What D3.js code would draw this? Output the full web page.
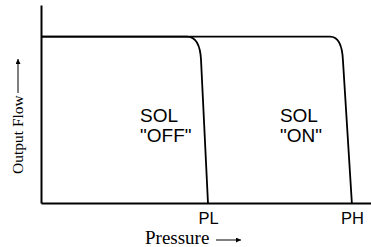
<!DOCTYPE html>
<html>
<head>
<meta charset="utf-8">
<script src="https://cdn.jsdelivr.net/npm/d3@7"></script>
<style>
  html, body { margin: 0; padding: 0; background: #fff; }
  svg { display: block; }
</style>
</head>
<body>
<div id="chart"></div>
<script>
// curve points in (pressure, flow): start, bend start, corner, bend end, bottom
const offCurve = [[0, 1], [44.2, 1], [48.2, 1], [48.5, 0.856], [50.6, 0]];
const onCurve = [[0, 1], [87.6, 1], [91.2, 1], [91.5, 0.856], [94.2, 0]];

const tickValues = [50.6, 94.2];
const tickLabels = ['PL', 'PH'];

const regionLabels = [
  { x: 30, lines: ['SOL', '"OFF"'] },
  { x: 72.4, lines: ['SOL', '"ON"'] }
];

const width = 371, height = 247;
const margin = { left: 41, right: 0, top: 5, bottom: 44 };

const x = d3.scaleLinear().domain([0, 100]).range([margin.left, width - margin.right]);
const y = d3.scaleLinear().domain([0, 1.19]).range([height - margin.bottom, margin.top]);

const svg = d3.select('#chart').append('svg')
  .attr('width', width)
  .attr('height', height);

// -- arrow marker for axis titles
svg.append('defs').append('marker')
  .attr('id', 'arrow')
  .attr('viewBox', '0 -5 10 10')
  .attr('refX', 10)
  .attr('refY', 0)
  .attr('markerWidth', 10)
  .attr('markerHeight', 5)
  .attr('markerUnits', 'userSpaceOnUse')
  .attr('orient', 'auto')
  .append('path')
  .attr('d', 'M0,-5L10,0L0,5Z')
  .attr('fill', '#000');

// -- curves
const curvePath = pts => {
  const p = d3.path();
  p.moveTo(x(pts[0][0]), y(pts[0][1]));
  p.lineTo(x(pts[1][0]), y(pts[1][1]));
  p.quadraticCurveTo(x(pts[2][0]), y(pts[2][1]), x(pts[3][0]), y(pts[3][1]));
  p.lineTo(x(pts[4][0]), y(pts[4][1]));
  return p.toString();
};

svg.append('g')
  .attr('fill', 'none')
  .attr('stroke', '#000')
  .attr('stroke-width', 1.8)
  .selectAll('path')
  .data([offCurve, onCurve])
  .join('path')
  .attr('d', curvePath);

// -- axes
const xAxis = svg.append('g')
  .attr('transform', `translate(0,${y(0)})`)
  .call(d3.axisBottom(x)
    .tickValues(tickValues)
    .tickFormat((d, i) => tickLabels[i])
    .tickSizeInner(0)
    .tickSizeOuter(0)
    .tickPadding(9));
xAxis.select('.domain').attr('stroke-width', 2);
xAxis.selectAll('text')
  .attr('font-family', '"Liberation Sans", Arial, sans-serif')
  .attr('font-size', 16.5)
  .attr('fill', '#000');

const yAxis = svg.append('g')
  .attr('transform', `translate(${margin.left},0)`)
  .call(d3.axisLeft(y).tickValues([]).tickSizeOuter(0));
yAxis.select('.domain').attr('stroke-width', 2);

// -- region labels
svg.append('g')
  .attr('font-family', '"Liberation Sans", Arial, sans-serif')
  .attr('font-size', 19)
  .selectAll('text')
  .data(regionLabels)
  .join('text')
  .attr('x', d => x(d.x))
  .attr('y', 122)
  .selectAll('tspan')
  .data(d => d.lines.map(t => ({ t, x: d.x })))
  .join('tspan')
  .attr('x', d => x(d.x))
  .attr('dy', (d, i) => i ? 20 : 0)
  .text(d => d.t);

// -- axis titles
svg.append('text')
  .attr('x', 145)
  .attr('y', 244)
  .attr('font-family', '"Liberation Serif", "Times New Roman", serif')
  .attr('font-size', 19)
  .text('Pressure');
svg.append('line')
  .attr('x1', 216).attr('y1', 240)
  .attr('x2', 241).attr('y2', 240)
  .attr('stroke', '#000')
  .attr('stroke-width', 1)
  .attr('marker-end', 'url(#arrow)');

svg.append('text')
  .attr('transform', 'translate(23,174) rotate(-90)')
  .attr('font-family', '"Liberation Serif", "Times New Roman", serif')
  .attr('font-size', 15.5)
  .text('Output Flow');
svg.append('line')
  .attr('x1', 18).attr('y1', 93)
  .attr('x2', 18).attr('y2', 59)
  .attr('stroke', '#000')
  .attr('stroke-width', 1)
  .attr('marker-end', 'url(#arrow)');
</script>
</body>
</html>
